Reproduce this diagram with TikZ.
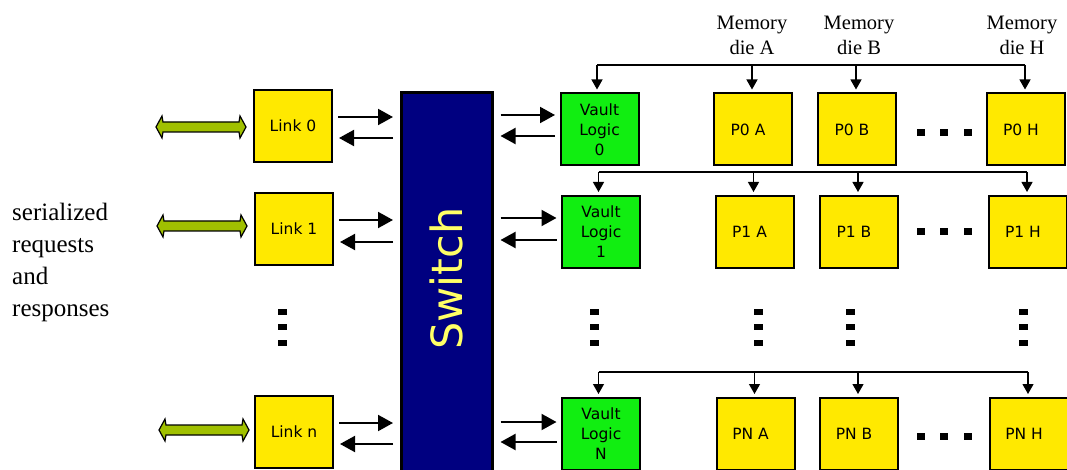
\documentclass[tikz,border=0pt]{standalone}
\usepackage{fontspec}
\setmainfont{Liberation Serif}
\newfontfamily\dejavu{DejaVu Sans}
\usetikzlibrary{arrows.meta,calc}
\definecolor{boxyellow}{RGB}{255,233,0}
\definecolor{vaultgreen}{RGB}{17,238,17}
\definecolor{switchblue}{RGB}{0,0,128}
\definecolor{switchtext}{RGB}{255,255,102}
\definecolor{linkolive}{RGB}{160,192,0}
\begin{document}
\begin{tikzpicture}[x=1pt,y=-1pt,
  ybox/.style={draw=black, line width=2pt, fill=boxyellow, minimum width=78pt, minimum height=72pt,
    inner sep=0pt, font=\dejavu\fontsize{15.5}{20}\selectfont},
  gbox/.style={ybox, fill=vaultgreen, align=center},
  pbox/.style={ybox, execute at begin node={\hspace*{-10pt}}},
  lk/.style={line width=2pt, -{Triangle[length=15pt,width=16pt]}},
  bus/.style={line width=1.2pt},
  busarr/.style={line width=1.2pt, -{Triangle[length=10pt,width=11pt]}},
  dotv/.style={fill=black, draw=none, minimum width=9pt, minimum height=6pt, inner sep=0pt},
  doth/.style={fill=black, draw=none, minimum width=8pt, minimum height=7pt, inner sep=0pt},
  memlabel/.style={align=center, font=\fontsize{20.5}{25}\selectfont, inner sep=0pt},
  dblarrow/.pic={
    \filldraw[fill=linkolive, draw=black, line width=1.2pt]
      (-45,0) -- (-39,-11) -- (-38,-5) -- (38,-5) -- (39,-11) -- (45,0)
      -- (39,11) -- (38,5) -- (-38,5) -- (-39,11) -- cycle;
  }
]
\useasboundingbox (0,0) rectangle (1067,470);
\clip (0,0) rectangle (1067,470);

% side text
\node[align=left, anchor=west, inner sep=0pt, font=\fontsize{25}{32}\selectfont] (sertext) at (12,262)
  {serialized\\requests\\and\\responses};

% memory die labels
\node[memlabel] (memA) at (752,35) {Memory\\die A};
\node[memlabel] (memB) at (859,35) {Memory\\die B};
\node[memlabel] (memH) at (1022,35) {Memory\\die H};

% switch
\node[draw=black, line width=3pt, fill=switchblue, minimum width=91pt, minimum height=440pt,
  inner sep=0pt, anchor=north] (switch) at (447,91.5) {};
\node[rotate=90, text=switchtext, inner sep=0pt, font=\dejavu\fontsize{43}{43}\selectfont] (switchlabel)
  at (446,278.5) {Switch};

% links
\node[ybox] (link0) at (293,126) {Link 0};
\node[ybox] (link1) at (294,229) {Link 1};
\node[ybox] (linkn) at (294,432) {Link n};

% vaults
\node[gbox] (vault0) at (599.5,129.5) {Vault\\Logic\\0};
\node[gbox] (vault1) at (601,232) {Vault\\Logic\\1};
\node[gbox] (vaultn) at (601,434) {Vault\\Logic\\N};

% partitions
\node[pbox] (p0a) at (753,129.5) {P0 A};
\node[pbox] (p0b) at (857,129.5) {P0 B};
\node[pbox] (p0h) at (1026,129.5) {P0 H};
\node[pbox] (p1a) at (754.5,232) {P1 A};
\node[pbox] (p1b) at (859,232) {P1 B};
\node[pbox] (p1h) at (1028,232) {P1 H};
\node[pbox] (pna) at (755.5,434) {PN A};
\node[pbox] (pnb) at (859,434) {PN B};
\node[pbox] (pnh) at (1029,434) {PN H};

% green double arrows
\pic at ($(link0.west)+(-52,1)$) {dblarrow};
\pic at ($(link1.west)+(-52,-3)$) {dblarrow};
\pic at ($(linkn.west)+(-50,-2)$) {dblarrow};

% link <-> switch arrows
\foreach \l/\a/\b in {link0/117/138, link1/220/242, linkn/423/444}{
  \draw[lk] ($(\l.east |- 0,\a)+(5,0)$) -- ($(switch.west |- 0,\a)+(-7,0)$);
  \draw[lk] ($(switch.west |- 0,\b)+(-7,0)$) -- ($(\l.east |- 0,\b)+(6,0)$);
}
% switch <-> vault arrows
\foreach \v/\a/\b in {vault0/115/136, vault1/218/240, vaultn/422/442}{
  \draw[lk] ($(switch.east |- 0,\a)+(6.5,0)$) -- ($(\v.west |- 0,\a)+(-4.5,0)$);
  \draw[lk] ($(\v.west |- 0,\b)+(-4.5,0)$) -- ($(switch.east |- 0,\b)+(6.5,0)$);
}

% memory buses
\foreach \y/\v/\pa/\pb/\ph in {65/vault0/p0a/p0b/p0h, 172/vault1/p1a/p1b/p1h, 372/vaultn/pna/pnb/pnh}{
  \draw[bus] ($(\v.north |- 0,\y)+(-2.5,0)$) -- ($(\ph.north |- 0,\y)+(-1,0)$);
  \draw[busarr] ($(\v.north |- 0,\y)+(-2.5,0)$) -- ($(\v.north)+(-2.5,-3)$);
  \foreach \p in {\pa,\pb,\ph}{
    \draw[busarr] ($(\p.north |- 0,\y)+(-1,0)$) -- ($(\p.north)+(-1,-3)$);
  }
}

% horizontal ellipsis dots
\foreach \y in {133,232,436}{
  \foreach \x in {921,944,968}{
    \node[doth] (dh\x\y) at (\x,\y) {};
  }
}
% vertical ellipsis dots
\foreach \x in {282,594,758,850,1023}{
  \foreach \y in {311.5,327,342.5}{
    \node[dotv] (dv\x\y) at (\x,\y) {};
  }
}
\end{tikzpicture}
\end{document}
